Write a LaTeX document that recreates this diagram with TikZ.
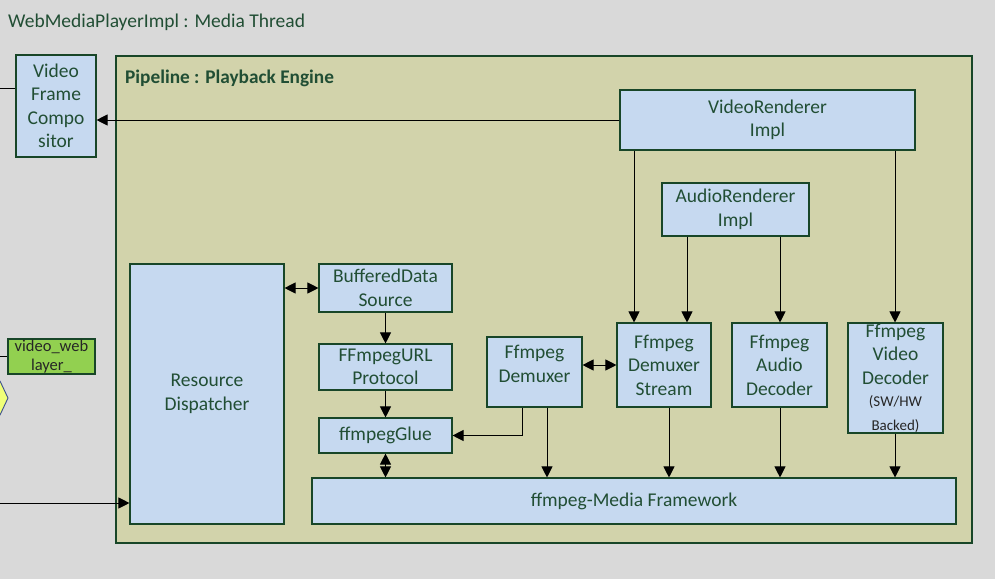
\documentclass[tikz,border=0pt]{standalone}
\usepackage{fontspec}
\setmainfont{Carlito}
\usetikzlibrary{arrows.meta,calc}
\definecolor{bg}{RGB}{217,217,217}
\definecolor{txtg}{RGB}{33,78,52}
\definecolor{bordg}{RGB}{24,70,40}
\definecolor{boxb}{RGB}{198,217,240}
\definecolor{pipef}{RGB}{210,211,171}
\definecolor{vwg}{RGB}{146,208,80}
\definecolor{hexy}{RGB}{240,255,120}
\definecolor{hexb}{RGB}{60,80,140}
\tikzset{
  blk/.style={draw=bordg, line width=1.1pt, fill=boxb, inner sep=0pt, align=center,
    text=txtg, font=\fontsize{19.5}{23.5}\selectfont},
  arr/.style={draw=black, line width=0.9pt, -{Triangle[length=11pt,width=11pt]}},
  arrb/.style={draw=black, line width=0.9pt, {Triangle[length=11pt,width=11pt]}-{Triangle[length=11pt,width=11pt]}},
  ln/.style={draw=black, line width=0.9pt}
}
\begin{document}
\begin{tikzpicture}[x=1pt,y=-1pt]
\useasboundingbox (0,0) rectangle (995,579);
\fill[bg] (0,0) rectangle (995,579);
\node[anchor=base west, text=txtg, font=\fontsize{19.5}{23}\selectfont, inner sep=0pt] (title) at (8,27) {WebMediaPlayerImpl : Media Thread};
% pipeline
\node[draw=bordg, line width=1.1pt, fill=pipef, minimum width=856pt, minimum height=487pt, inner sep=0pt] (pipe) at (544,299.5) {};
\node[anchor=base west, text=txtg, font=\bfseries\fontsize{19.3}{22}\selectfont, inner sep=0pt] (ptitle) at (125,83) {Pipeline : Playback Engine};
% left side
\node[blk, minimum width=80pt, minimum height=102pt] (vfc) at (56,106) {Video\\Frame\\Compo\\sitor};
\node[draw=bordg, line width=1.1pt, fill=vwg, inner sep=0pt, minimum width=87pt, minimum height=35pt, align=center, text=black!85, font=\fontsize{16.5}{18.5}\selectfont] (vwl) at (51.5,356.5) {video\_web\\layer\_};
\path[fill=hexy] (-10,381) -- (0,381) -- (8,398) -- (0,415) -- (-10,415) -- cycle;
\draw[hexb, line width=0.9pt] (-1,381) -- (0,381) -- (8,398) -- (0,415) -- (-1,415);
% blocks
\node[blk, minimum width=295pt, minimum height=60pt] (vri) at (767.5,120) {VideoRenderer\\Impl};
\node[blk, minimum width=147pt, minimum height=53pt] (ari) at (735.5,209.5) {AudioRenderer\\Impl};
\node[blk, minimum width=94pt, minimum height=84pt] (fds) at (664,365) {Ffmpeg\\Demuxer\\Stream};
\node[blk, minimum width=95pt, minimum height=84pt] (fad) at (779.5,365) {Ffmpeg\\Audio\\Decoder};
\node[blk, minimum width=95pt, minimum height=110pt] (fvd) at (895.5,378) {Ffmpeg\\Video\\Decoder\\[-1pt]{\fontsize{15}{22}\selectfont\color{black!85}(SW/HW}\\{\fontsize{15}{22}\selectfont\color{black!85}Backed)}};
\node[blk, minimum width=644pt, minimum height=46pt] (fmf) at (634,501) {ffmpeg-Media Framework};
\node[blk, minimum width=95pt, minimum height=70pt] (fdm) at (534.5,372) {Ffmpeg\\Demuxer\\[-7pt]\mbox{}};
\node[blk, minimum width=133pt, minimum height=48pt] (bds) at (385.5,288) {BufferedData\\Source};
\node[blk, minimum width=133pt, minimum height=46pt] (fup) at (385.5,367) {FFmpegURL\\Protocol};
\node[blk, minimum width=133pt, minimum height=35pt] (glue) at (385.5,435.5) {ffmpegGlue};
\node[blk, minimum width=154pt, minimum height=260pt] (rd) at (207,394) {Resource\\Dispatcher};
% helper coordinates
\coordinate (L1) at (0,88);
\coordinate (L2) at (0,356);
\coordinate (L3) at (0,503);
\coordinate (x634) at (634,0);
\coordinate (x895) at (895,0);
\coordinate (x687) at (687,0);
\coordinate (x780) at (780,0);
\coordinate (x669) at (669,0);
\coordinate (x522) at (522,0);
\coordinate (x547) at (547,0);
% connectors
\draw[ln] (L1) -- (L1 -| vfc.west);
\draw[ln] (L2) -- (L2 -| vwl.west);
\draw[arr] (L3) -- (L3 -| rd.west);
\draw[arr] (vri.west) -- (vri.west -| vfc.east);
\draw[arr] (vri.south -| x634) -- (fds.north -| x634);
\draw[arr] (vri.south -| x895) -- (fvd.north -| x895);
\draw[arr] (ari.south -| x687) -- (fds.north -| x687);
\draw[arr] (ari.south -| x780) -- (fad.north -| x780);
\draw[arr] (fds.south -| x669) -- (fmf.north -| x669);
\draw[arr] (fad.south -| x780) -- (fmf.north -| x780);
\draw[arr] (fvd.south -| x895) -- (fmf.north -| x895);
\draw[arr] (fdm.south -| x547) -- (fmf.north -| x547);
\draw[arr] (fdm.south -| x522) |- (glue.east);
\draw[arrb] (fdm.east |- fds.west) -- (fds.west);
\draw[arrb] (rd.east |- bds.west) -- (bds.west);
\draw[arr] (bds.south) -- (fup.north);
\draw[arr] (fup.south) -- (glue.north);
\draw[arrb] (glue.south) -- (glue.south |- fmf.north);
\end{tikzpicture}
\end{document}
